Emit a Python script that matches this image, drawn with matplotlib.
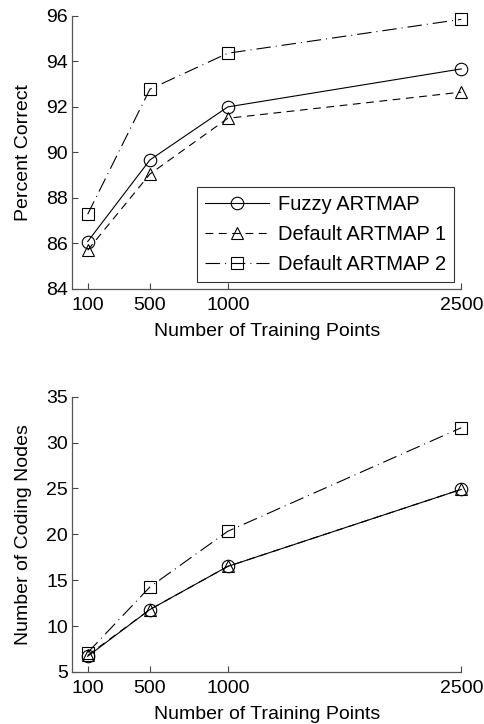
import matplotlib
matplotlib.use("Agg")
import matplotlib.pyplot as plt

plt.rcParams['font.family'] = ['Liberation Sans', 'DejaVu Sans']

# training set sizes
train_pts = [100, 500, 1000, 2500]
x_ticks = [100, 500, 1000, 2500]

# percent correct
fuzzy_acc = [86.08, 89.67, 92.0, 93.67]
default1_acc = [85.7, 89.05, 91.5, 92.65]
default2_acc = [87.28, 92.78, 94.36, 95.85]

# number of coding nodes
fuzzy_nodes = [6.7, 11.8, 16.5, 24.9]
default1_nodes = [6.8, 11.8, 16.5, 24.9]
default2_nodes = [7.1, 14.26, 20.33, 31.62]

labels = ['Fuzzy ARTMAP', 'Default ARTMAP 1', 'Default ARTMAP 2']

fig = plt.figure(figsize=(4.84, 7.24), dpi=100)
ax1 = fig.add_axes([0.149, 0.601, 0.804, 0.377])
ax2 = fig.add_axes([0.149, 0.072, 0.804, 0.380])

# line style, marker, dash pattern
styles = [('-', 'o', None), ('--', '^', (7, 5)), ('-.', 's', (13, 4.5, 0.9, 4.5))]
mk = dict(color='black', lw=0.8, ms=9, mfc='none', mec='black', mew=0.8)

def draw(ax, series, with_label):
    for ys, (ls, m, dash), lab in zip(series, styles, labels):
        line, = ax.plot(train_pts, ys, linestyle=ls, marker=m,
                        label=lab if with_label else None, clip_on=False, **mk)
        if dash is not None:
            line.set_dashes(dash)

draw(ax1, [fuzzy_acc, default1_acc, default2_acc], True)
draw(ax2, [fuzzy_nodes, default1_nodes, default2_nodes], False)

ax1.set_ylim(84, 96)
ax1.set_yticks(range(84, 97, 2))
ax1.set_ylabel('Percent Correct', fontsize=14, labelpad=10)
ax2.set_ylim(5, 35)
ax2.set_yticks(range(5, 36, 5))
ax2.set_ylabel('Number of Coding Nodes', fontsize=14, labelpad=10)

for ax in (ax1, ax2):
    ax.set_xlim(0, 2500)
    ax.set_xticks(x_ticks)
    ax.set_xlabel('Number of Training Points', fontsize=14, labelpad=6)
    ax.spines['top'].set_visible(False)
    ax.spines['right'].set_visible(False)
    for s in ('left', 'bottom'):
        ax.spines[s].set_color('#555555')
        ax.spines[s].set_linewidth(0.9)
    ax.tick_params(axis='x', pad=6)
    ax.tick_params(axis='y', pad=3)
    ax.tick_params(direction='in', length=4, width=0.8, labelsize=14, color='#444444')

leg = ax1.legend(loc='lower right', bbox_to_anchor=(0.982, 0.026), borderaxespad=0,
                 fontsize=14.5, frameon=True, fancybox=False, handlelength=3.2,
                 borderpad=0.4, labelspacing=0.55, handletextpad=0.45)
leg.get_frame().set_edgecolor('black')
leg.get_frame().set_linewidth(0.8)

fig.savefig('out.png', dpi=100)
